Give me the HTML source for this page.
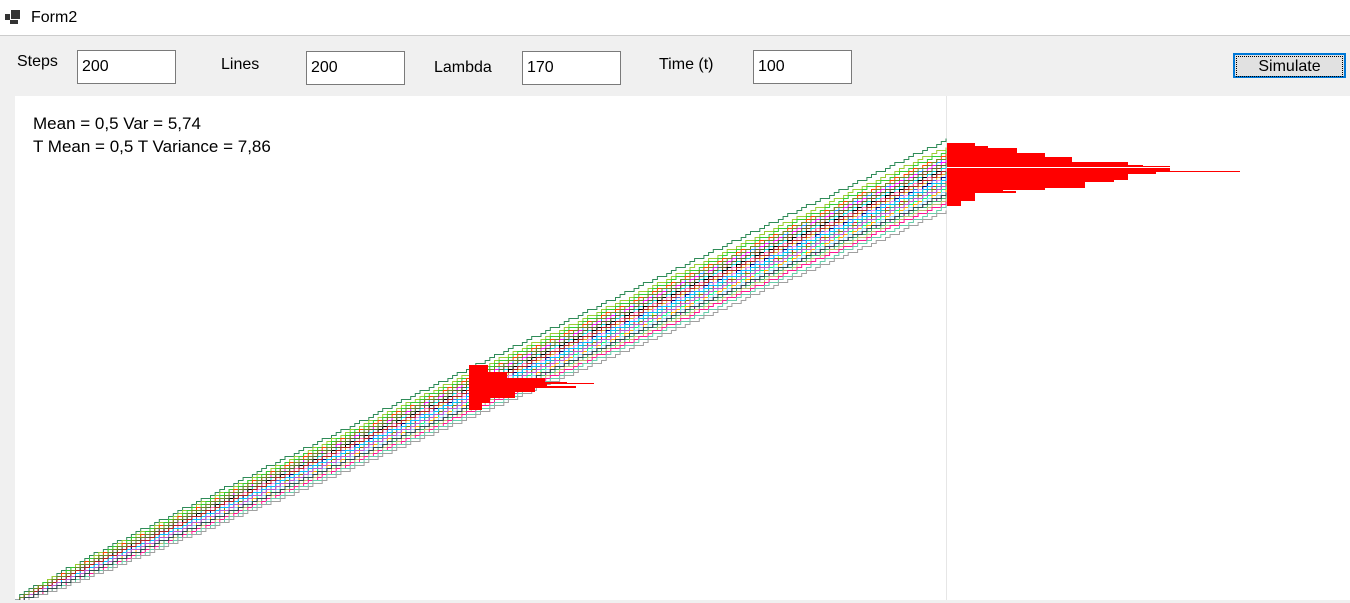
<!DOCTYPE html>
<html><head><meta charset="utf-8"><style>
body{margin:0;width:1350px;height:603px;overflow:hidden;background:#f0f0f0;font-family:"Liberation Sans",sans-serif;position:relative}
.abs{position:absolute}
.lbl{font-size:16px;color:#000}
.inp{background:#fff;border:1px solid #7a7a7a;height:31px;box-sizing:border-box;font-size:16px;padding:6px 4px;font-family:"Liberation Sans",sans-serif}
</style></head><body>
<div class="abs" style="left:0;top:0;width:1350px;height:35px;background:#fff;border-bottom:1px solid #ccc">
 <div class="abs" style="left:5px;top:10px;width:16px;height:14px">
  <div class="abs" style="left:6px;top:0;width:9px;height:9px;background:#333"></div>
  <div class="abs" style="left:0;top:4px;width:5px;height:6px;background:#333"></div>
  <div class="abs" style="left:5px;top:10px;width:8px;height:4px;background:#333"></div>
 </div>
 <div class="abs" style="left:31px;top:9px;font-size:16px">Form2</div>
</div>
<div class="abs lbl" style="left:17px;top:53px">Steps</div>
<input class="abs inp" style="left:77px;top:50px;width:99px;height:34px" value="200">
<div class="abs lbl" style="left:221px;top:56px">Lines</div>
<input class="abs inp" style="left:306px;top:51px;width:99px;height:34px" value="200">
<div class="abs lbl" style="left:434px;top:59px">Lambda</div>
<input class="abs inp" style="left:522px;top:51px;width:99px;height:34px" value="170">
<div class="abs lbl" style="left:659px;top:56px">Time (t)</div>
<input class="abs inp" style="left:753px;top:50px;width:99px;height:34px" value="100">
<div class="abs" style="left:1233px;top:53px;width:113px;height:25px;box-sizing:border-box;border:2px solid #0078d7;background:#e1e1e1;text-align:center;font-size:16px;line-height:21px"><div style="border:1px dotted #000;margin:1px;line-height:19px">Simulate</div></div>
<svg class="abs" style="left:15px;top:96px" width="1335" height="504" viewBox="15 96 1335 504">
 <rect x="15" y="96" width="1335" height="504" fill="#fff"/>
 <line x1="946.5" y1="96" x2="946.5" y2="600" stroke="#e6e6e6"/>
 <g id="lines"></g>
 <g id="hists"></g>
 <text x="33" y="129" font-size="17" font-family="Liberation Sans">Mean = 0,5 Var = 5,74</text>
 <text x="33" y="152" font-size="17" font-family="Liberation Sans">T Mean = 0,5 T Variance = 7,86</text>
</svg>
<script>
const lineOffsets=[-1.9,-1.5,-1.3,-1.1,-0.9,-0.8,-0.6,-0.5,-0.4,-0.3,-0.2,-0.1,0,0.05,0.1,0.2,0.3,0.35,0.45,0.55,0.65,0.75,0.85,1.0,1.1,1.25,1.4,1.6,1.85,-0.7,0.15,-0.25,0.5,-1.0,0.95];
const lineColors=["#2e8b57","#9acd32","#32cd32","#ff4500","#1e90ff","#ff00ff","#8b4513","#00ced1","#000","#ff69b4","#228b22","#daa520","#4169e1","#000080","#ee82ee","#7fff00","#dc143c","#20b2aa","#808000","#9370db","#00ff7f","#ffa500","#87cefa","#800080","#3cb371","#bdb76b","#ff1493","#66cdaa","#a0a0a0","#556b2f","#00bfff","#b22222","#ba55d3","#6b8e23","#2f4f4f"];
const endBins=[[143,146,975],[146,148,988],[148,153,1017],[153,157,1045],[157,162,1072],[162,165,1128],[165,166,1143],[166,167,1170],[168,171,1170],[171,172,1240],[172,174,1156],[174,180,1128],[180,182,1114],[182,188,1085],[188,190,1045],[190,191,1003],[191,193,1016],[193,201,975],[201,206,961]];
const midBins=[[365,372,488],[372,378,507],[378,382,545],[382,383,567],[383,384,594],[384,386,547],[386,388,576],[388,392,535],[392,398,515],[398,403,490],[403,410,482]];
const steps=200,x0=15,x1=946,y0=600,yEnd=175;
const X=i=>x0+(x1-x0)*i/steps;
const Y=(i,z)=>y0+(yEnd-y0)*i/steps + z*19*Math.sqrt(i/steps);
const NS="http://www.w3.org/2000/svg";
const lg=document.getElementById('lines');
lineOffsets.forEach((z,k)=>{
 let d="M"+X(0)+" "+y0;
 for(let i=1;i<=steps;i++){const y=Math.round(Y(i,z)/3)*3+0.5;d+=" H"+X(i).toFixed(1)+" V"+y;}
 const p=document.createElementNS(NS,'path');
 
 
 p.setAttribute('d',d);p.setAttribute('fill','none');p.setAttribute('stroke',lineColors[k%lineColors.length]);p.setAttribute('stroke-width','1');
 lg.appendChild(p);
});
const hg=document.getElementById('hists');
function bars(bins,x,name){bins.forEach(b=>{
 const r=document.createElementNS(NS,'rect');
 
 
 r.setAttribute('x',x);r.setAttribute('y',b[0]);r.setAttribute('width',b[2]-x);r.setAttribute('height',Math.max(1,b[1]-b[0]));r.setAttribute('fill','#f00');
 hg.appendChild(r);});}
bars(endBins,947,'end-histogram-bar');
bars(midBins,469,'mid-histogram-bar');
</script>
</body></html>
